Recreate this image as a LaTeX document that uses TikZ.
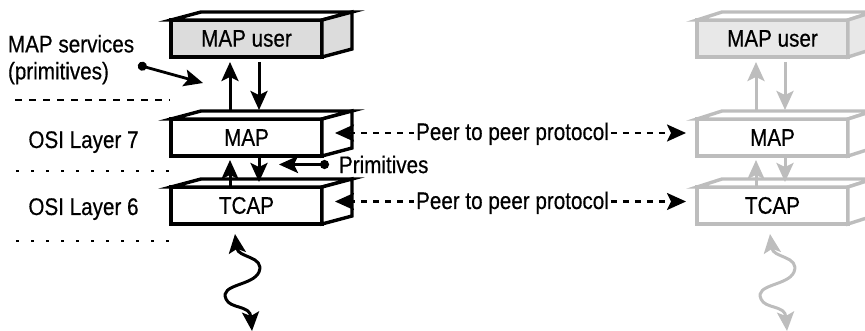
\documentclass[tikz,border=0pt]{standalone}
\usepackage{fontspec}
\setmainfont{Liberation Sans}[FakeStretch=0.86,FakeBold=0.5]
\usetikzlibrary{arrows.meta}
\definecolor{usergray}{HTML}{DCDCDC}
\definecolor{usergrayR}{HTML}{E8E8E8}
\definecolor{ghost}{HTML}{BDBDBD}
\tikzset{
  face/.style={rectangle, minimum width=151pt, minimum height=37pt, inner sep=0pt, outer sep=0pt, line width=3.4pt},
  faceline/.style={line width=3.4pt},
  tipst/.tip={Stealth[length=19pt,width=17pt,inset=4pt]},
  flow/.style={line width=3pt, -tipst},
  wave/.style={line width=3pt, tipst-tipst},
  dotflow/.style={line width=2.8pt, {Circle[length=9pt]}-tipst},
  peer/.style={line width=2.3pt, dash pattern=on 6pt off 6pt},
  lbl/.style={inner sep=0pt, outer sep=0pt},
  sepdash/.style={line width=2.3pt, dash pattern=on 7pt off 7pt},
  sepdot/.style={line width=2.6pt, dash pattern=on 2.6pt off 12.4pt}
}
% #1 prefix, #2 front-left x, #3 line colour, #4 user fill, #5 depth, #6 arrow colour, #7 wave offset
\newcommand\layerstack[7]{%
  \node[face, draw=#3, fill=#4, anchor=north west] (#1user) at (#2,20) {MAP user};
  \node[face, draw=#3, fill=white, anchor=north west] (#1map) at (#2,119) {MAP};
  \node[face, draw=#3, fill=white, anchor=north west] (#1tcap) at (#2,187) {TCAP};
  \draw[faceline, draw=#3, fill=white] (#1user.north west) -- ++(#5,-8) -- ++(151,0) -- (#1user.north east) -- cycle;
  \draw[faceline, draw=#3, fill=#4] (#1user.north east) -- ++(#5,-8) -- ++(0,37) -- (#1user.south east) -- cycle;
  \foreach \n in {map,tcap}{%
    \draw[faceline, draw=#3, fill=white] (#1\n.north west) -- ++(#5,-8) -- ++(151,0) -- (#1\n.north east) -- cycle;
    \draw[faceline, draw=#3, fill=white] (#1\n.north east) -- ++(#5,-8) -- ++(0,37) -- (#1\n.south east) -- cycle;
  }
  \draw[flow, color=#6] ([xshift=59pt,yshift=9pt]#1map.north west) -- ([xshift=59pt,yshift=-5pt]#1user.south west);
  \draw[flow, color=#6] ([xshift=88pt,yshift=-5pt]#1user.south west) -- ([xshift=88pt,yshift=9pt]#1map.north west);
  \draw[flow, color=#6] ([xshift=59pt,yshift=1pt]#1tcap.north west) -- ([xshift=59pt,yshift=-4pt]#1map.south west);
  \draw[flow, color=#6] ([xshift=88pt,yshift=-2pt]#1map.south west) -- ([xshift=88pt,yshift=5pt]#1tcap.north west);
  \coordinate (#1wtop) at (#2+#7,234);
  \coordinate (#1wbot) at (#2+#7+17,331);
  \draw[wave, color=#6] (#1wtop) .. controls (#2+#7+3,258) and (#2+#7+30,256) .. (#2+#7+24,272)
     .. controls (#2+#7+18,286) and (#2+#7-16,284) .. (#2+#7-9,299)
     .. controls (#2+#7-5,309) and (#2+#7+15,305) .. (#1wbot);
}
\begin{document}
\begin{tikzpicture}[x=1pt, y=-1pt, font=\fontsize{24}{27}\selectfont]
\useasboundingbox (0,0) rectangle (865,331);
\clip (0,0) rectangle (865,331);

% separators
\draw[sepdash] (15,100) -- (170,100);
\draw[sepdot] (16,171) -- (170,171);
\draw[sepdot] (16,241) -- (170,241);

% left labels
\node[lbl, align=left, anchor=north west] (svc) at (8,35) {MAP services\\(primitives)};
\node[lbl, anchor=base] (osi7) at (83.5,148) {OSI Layer 7};
\node[lbl, anchor=base] (osi6) at (83.5,215) {OSI Layer 6};

% stacks
\layerstack{L}{171}{black}{usergray}{30}{black}{64}
\layerstack{R}{697}{ghost}{usergrayR}{25}{ghost}{73}

% MAP services arrow
\coordinate (svcdot) at (138,65);
\coordinate (svctip) at (203,83);
\draw[dotflow] (svcdot) -- (svctip);

% Primitives
\node[lbl, anchor=west] (prim) at (339,164.5) {Primitives};
\draw[dotflow] ([xshift=-10pt]prim.west) -- ([xshift=-60pt]prim.west);

% peer to peer protocol
\node[lbl, anchor=base] (peer1) at (512.5,140) {Peer to peer protocol};
\node[lbl, anchor=base] (peer2) at (512.5,209) {Peer to peer protocol};
\coordinate (p1l) at ([xshift=13pt,yshift=4.5pt]Lmap.east);
\coordinate (p1r) at ([xshift=-11pt,yshift=4.5pt]Rmap.west);
\coordinate (p2l) at ([xshift=13pt,yshift=4pt]Ltcap.east);
\coordinate (p2r) at ([xshift=-11pt,yshift=4pt]Rtcap.west);
\draw[peer, tipst-] (p1l) -- ([xshift=-2pt]p1l -| peer1.west);
\draw[peer, -tipst] ([xshift=2pt]p1r -| peer1.east) -- (p1r);
\draw[peer, tipst-] (p2l) -- ([xshift=-2pt]p2l -| peer2.west);
\draw[peer, -tipst] ([xshift=2pt]p2r -| peer2.east) -- (p2r);
\end{tikzpicture}
\end{document}
